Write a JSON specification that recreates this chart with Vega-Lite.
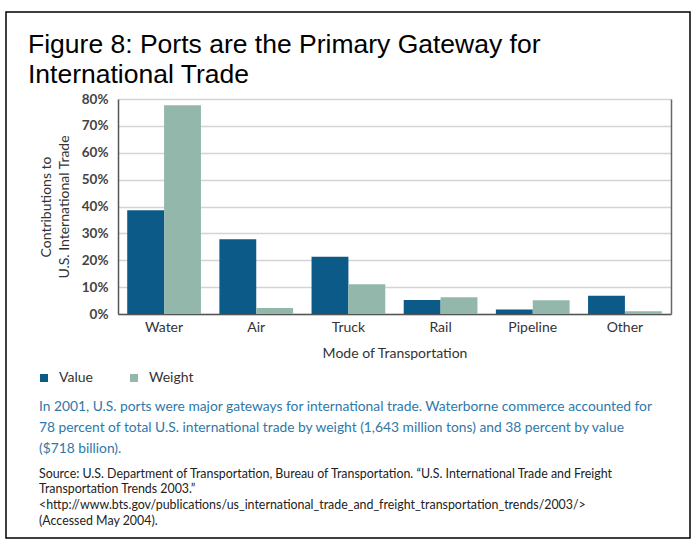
{
  "$schema": "https://vega.github.io/schema/vega-lite/v6.json",
  "padding": {"left": 6, "top": 12, "right": 4, "bottom": 2},
  "background": "white",
  "title": {
    "text": ["Figure 8: Ports are the Primary Gateway for", "International Trade"],
    "orient": "top",
    "anchor": "start",
    "frame": "bounds",
    "offset": -76,
    "dx": 22,
    "fontSize": 26.5,
    "lineHeight": 30,
    "font": "Liberation Sans",
    "fontWeight": "normal",
    "color": "#000000"
  },
  "vconcat": [
    {
      "width": 553,
      "height": 215,
      "view": {"stroke": null},
      "data": {
        "values": [
          {"mode": "Water", "measure": "Value", "pct": 38.6},
          {"mode": "Water", "measure": "Weight", "pct": 77.7},
          {"mode": "Air", "measure": "Value", "pct": 27.8},
          {"mode": "Air", "measure": "Weight", "pct": 2.2},
          {"mode": "Truck", "measure": "Value", "pct": 21.3},
          {"mode": "Truck", "measure": "Weight", "pct": 11.1},
          {"mode": "Rail", "measure": "Value", "pct": 5.2},
          {"mode": "Rail", "measure": "Weight", "pct": 6.2},
          {"mode": "Pipeline", "measure": "Value", "pct": 1.7},
          {"mode": "Pipeline", "measure": "Weight", "pct": 5.1},
          {"mode": "Other", "measure": "Value", "pct": 6.8},
          {"mode": "Other", "measure": "Weight", "pct": 1.0}
        ]
      },
      "title": {
        "text": [
          "In 2001, U.S. ports were major gateways for international trade. Waterborne commerce accounted for",
          "78 percent of total U.S. international trade by weight (1,643 million tons) and 38 percent by value",
          "($718 billion)."
        ],
        "subtitle": [
          "Source: U.S. Department of Transportation, Bureau of Transportation. “U.S. International Trade and Freight",
          "Transportation Trends 2003.”",
          "<http://www.bts.gov/publications/us_international_trade_and_freight_transportation_trends/2003/>",
          "(Accessed May 2004)."
        ],
        "orient": "bottom",
        "anchor": "start",
        "frame": "group",
        "dx": -79,
        "offset": 40,
        "font": "Lato",
        "fontSize": 13.8,
        "lineHeight": 21,
        "fontWeight": "normal",
        "color": "#2e78a9",
        "subtitleFont": "Lato",
        "subtitleFontSize": 12.4,
        "subtitleLineHeight": 15.7,
        "subtitleColor": "#222222",
        "subtitlePadding": 12
      },
      "layer": [
        {
          "mark": {"type": "bar"},
          "encoding": {
            "x": {
              "field": "mode",
              "type": "nominal",
              "sort": ["Water", "Air", "Truck", "Rail", "Pipeline", "Other"],
              "scale": {"paddingInner": 0.2, "paddingOuter": 0.1},
              "axis": {
                "labelAngle": 0,
                "labelFontSize": 14,
                "labelColor": "#333333",
                "labelPadding": 6,
                "ticks": false,
                "domainColor": "#555555",
                "domainWidth": 1.5,
                "title": "Mode of Transportation",
                "titleFontSize": 14,
                "titleFontWeight": "normal",
                "titleColor": "#333333",
                "titlePadding": 12
              }
            },
            "xOffset": {
              "field": "measure",
              "type": "nominal",
              "scale": {"paddingInner": 0, "paddingOuter": 0}
            },
            "y": {
              "field": "pct",
              "type": "quantitative",
              "scale": {"domain": [0, 80]},
              "axis": {
                "values": [0, 10, 20, 30, 40, 50, 60, 70, 80],
                "labelExpr": "datum.value + '%'",
                "labelFontSize": 13.5,
                "labelFontWeight": "bold",
                "labelColor": "#444444",
                "labelPadding": 10,
                "ticks": false,
                "domainColor": "#555555",
                "domainWidth": 1.5,
                "gridColor": "#d4d4d4",
                "gridWidth": 1.5,
                "title": ["Contributions to", "U.S. International Trade"],
                "titleFontSize": 14,
                "titleFontWeight": "normal",
                "titleColor": "#333333",
                "titlePadding": 10,
                "titleLineHeight": 18
              }
            },
            "color": {
              "field": "measure",
              "type": "nominal",
              "scale": {"domain": ["Value", "Weight"], "range": ["#0b5a87", "#93b7aa"]},
              "legend": {
                "orient": "none",
                "legendX": -81,
                "legendY": 272,
                "direction": "horizontal",
                "title": null,
                "symbolType": "square",
                "symbolSize": 64,
                "symbolStrokeWidth": 0,
                "labelFontSize": 14,
                "labelColor": "#333333",
                "labelOffset": 8,
                "columnPadding": 34
              }
            }
          }
        },
        {
          "mark": {"type": "rule", "opacity": 0},
          "encoding": {
            "y": {
              "field": "pct",
              "type": "quantitative",
              "scale": {"domain": [0, 80]},
              "axis": {
                "orient": "right",
                "labels": false,
                "ticks": false,
                "grid": false,
                "title": null,
                "domainColor": "#666666",
                "domainWidth": 1.5
              }
            },
            "stroke": {
              "field": "pct",
              "type": "quantitative",
              "scale": {"range": ["rgba(255,255,255,0)", "rgba(255,255,255,0)"]},
              "legend": {
                "orient": "none",
                "legendX": -112,
                "legendY": -87,
                "direction": "vertical",
                "gradientLength": 526,
                "gradientThickness": 684,
                "gradientStrokeColor": "#000000",
                "gradientStrokeWidth": 1.5,
                "labelExpr": "''",
                "labelOpacity": 0,
                "labelFontSize": 1,
                "title": null,
                "padding": 0
              }
            }
          }
        }
      ],
      "resolve": {"scale": {"y": "independent"}}
    }
  ],
  "config": {
    "font": "Lato",
    "view": {"stroke": null},
    "axis": {"labelFont": "Lato", "titleFont": "Lato"},
    "legend": {"labelFont": "Lato"}
  }
}
